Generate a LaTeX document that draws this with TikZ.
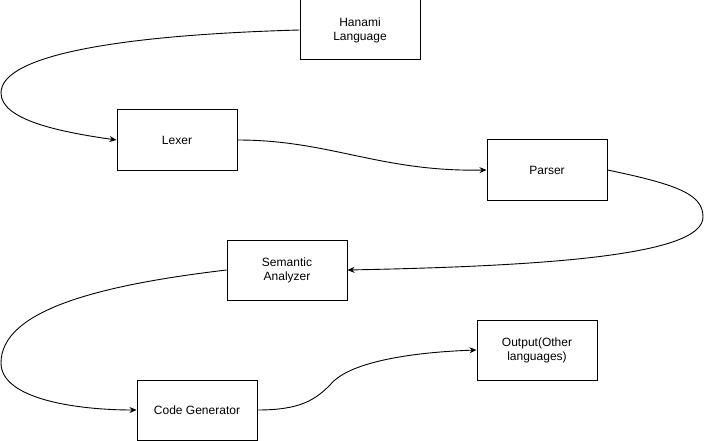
\documentclass[tikz,border=0pt]{standalone}
\usepackage{fontspec}
\setmainfont{Liberation Sans}
\usetikzlibrary{arrows.meta}

\tikzset{
	stage/.style={draw=black,line width=1pt,minimum width=120pt,minimum height=60pt,inner sep=0pt,align=center,font=\fontsize{12}{14}\selectfont},
	flow/.style={line width=0.9pt,-{Stealth[length=7pt,width=6pt]}}
}

\begin{document}
\begin{tikzpicture}[x=1pt,y=-1pt]

\useasboundingbox (0,0) rectangle (704,441);

\node[stage](hanami) at (360,30){Hanami\\Language};
\node[stage](lexer) at (177,140){Lexer};
\node[stage](parser) at (547,170){Parser};
\node[stage](semantic) at (287,270){Semantic\\Analyzer};
\node[stage](output) at (537,350){Output(Other\\languages)};
\node[stage](codegen) at (197,410){Code Generator};

%draw pipeline
\draw[flow](hanami.west) .. controls (120,35) and (1,55) .. (1,93) .. controls (1,120) and (60,132) .. (lexer.west);
\draw[flow](lexer.east) .. controls (330,140) and (380,172) .. (parser.west);
\draw[flow](parser.east) .. controls (680,185) and (703,195) .. (703,217) .. controls (703,255) and (550,266) .. (semantic.east);
\draw[flow](semantic.west) .. controls (100,285) and (1,310) .. (1,363) .. controls (1,400) and (80,410) .. (codegen.west);
\draw[flow](codegen.east) .. controls (300,410) and (315,400) .. (330,385) .. controls (350,360) and (420,352) .. (output.west);
\end{tikzpicture}
\end{document}
